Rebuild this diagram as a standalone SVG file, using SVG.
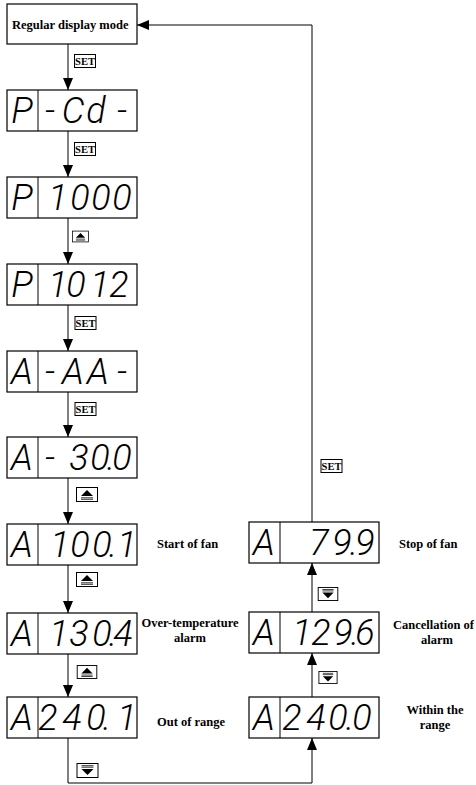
<svg xmlns="http://www.w3.org/2000/svg" xmlns:xlink="http://www.w3.org/1999/xlink" width="476" height="785" viewBox="0 0 476 785">
<style>
.box{fill:#fff;stroke:#000;stroke-width:1.2}
.div{stroke:#000;stroke-width:1}
.seg{font-family:Roboto,"Liberation Sans",Arial,sans-serif;font-weight:300;font-style:italic;font-size:36px;fill:#000;text-anchor:middle}
.lbl{font-family:"Liberation Serif","Times New Roman",serif;font-weight:bold;font-size:12.5px;fill:#000}
.conn{fill:none;stroke:#000;stroke-width:1}
.btn{fill:#fff;stroke:#000;stroke-width:1}
.bt{font-family:"Liberation Serif","Times New Roman",serif;font-weight:bold;font-size:10.5px;fill:#000;text-anchor:middle}
</style>
<defs>
<marker id="ah" markerUnits="userSpaceOnUse" markerWidth="13" markerHeight="10" refX="12" refY="5" orient="auto">
<path d="M0,0 L12,5 L0,10 z" fill="#000"/>
</marker>
<symbol id="set" viewBox="0 0 22 14">
<rect x="0.5" y="0.5" width="21" height="13" class="btn"/>
<text x="11" y="11" class="bt">SET</text>
</symbol>
<symbol id="up" viewBox="0 0 22 15">
<rect x="0.5" y="0.5" width="21" height="14" class="btn"/>
<path d="M11,3 L17,9 L5,9 z" fill="#000"/>
<path d="M5,10.8 H17 M5,12.3 H17" stroke="#000" stroke-width="0.8"/>
</symbol>
<symbol id="down" viewBox="0 0 22 15">
<rect x="0.5" y="0.5" width="21" height="14" class="btn"/>
<path d="M5,2.7 H17 M5,4.2 H17" stroke="#000" stroke-width="0.8"/>
<path d="M5,6 L17,6 L11,12 z" fill="#000"/>
</symbol>
</defs>
<rect width="476" height="785" fill="#fff"/>

<g id="connectors">
<path class="conn" d="M68,44 V90" marker-end="url(#ah)"/>
<path class="conn" d="M68,131 V177" marker-end="url(#ah)"/>
<path class="conn" d="M68,218 V264" marker-end="url(#ah)"/>
<path class="conn" d="M68,305 V351" marker-end="url(#ah)"/>
<path class="conn" d="M68,392 V437" marker-end="url(#ah)"/>
<path class="conn" d="M68,478 V524" marker-end="url(#ah)"/>
<path class="conn" d="M68,565 V613" marker-end="url(#ah)"/>
<path class="conn" d="M68,654 V697" marker-end="url(#ah)"/>
<path class="conn" d="M68,738 V783 H312 V738" marker-end="url(#ah)"/>
<path class="conn" d="M312,697 V653" marker-end="url(#ah)"/>
<path class="conn" d="M312,612 V563" marker-end="url(#ah)"/>
<path class="conn" d="M312,522 V25 H137" marker-end="url(#ah)"/>
<use xlink:href="#set" x="74" y="54" width="22" height="14"/>
<use xlink:href="#set" x="74" y="142" width="22" height="14"/>
<use xlink:href="#up" x="72" y="230" width="17" height="13"/>
<use xlink:href="#set" x="74" y="316" width="23" height="14"/>
<use xlink:href="#set" x="74" y="402" width="23" height="14"/>
<use xlink:href="#up" x="76" y="487" width="22" height="15"/>
<use xlink:href="#up" x="76" y="572" width="22" height="15"/>
<use xlink:href="#up" x="76" y="665" width="22" height="14"/>
<use xlink:href="#down" x="76" y="763" width="23" height="15"/>
<use xlink:href="#down" x="316" y="671" width="24" height="13"/>
<use xlink:href="#down" x="316" y="587" width="24" height="14"/>
<use xlink:href="#set" x="320" y="459" width="23" height="14"/>
</g>

<g id="regular">
<rect class="box" x="7" y="4" width="130" height="40"/>
<text class="lbl" x="12" y="28.5">Regular display mode</text>
</g>

<g id="p-cd">
<rect class="box" x="7" y="90" width="130" height="41"/>
<line class="div" x1="38" y1="90" x2="38" y2="131"/>
<text class="seg" x="22" y="123">P</text>
<text class="seg" x="50 73 96 122" y="123">-Cd-</text>
</g>

<g id="p-1000">
<rect class="box" x="7" y="177" width="130" height="41"/>
<line class="div" x1="38" y1="177" x2="38" y2="218"/>
<text class="seg" x="22" y="210">P</text>
<text class="seg" x="58 80 101 122" y="210">1000</text>
</g>

<g id="p-1012">
<rect class="box" x="7" y="264" width="130" height="41"/>
<line class="div" x1="38" y1="264" x2="38" y2="305"/>
<text class="seg" x="22" y="297">P</text>
<text class="seg" x="58 76 100 119" y="297">1012</text>
</g>

<g id="a-aa">
<rect class="box" x="7" y="351" width="130" height="41"/>
<line class="div" x1="38" y1="351" x2="38" y2="392"/>
<text class="seg" x="22" y="384">A</text>
<text class="seg" x="50 73 98 122" y="384">-AA-</text>
</g>

<g id="a-30">
<rect class="box" x="7" y="437" width="130" height="41"/>
<line class="div" x1="38" y1="437" x2="38" y2="478"/>
<text class="seg" x="22" y="470">A</text>
<text class="seg" x="50 79 100 111 122" y="470">-30.0</text>
</g>

<g id="a-100">
<rect class="box" x="7" y="524" width="130" height="41"/>
<line class="div" x1="38" y1="524" x2="38" y2="565"/>
<text class="seg" x="22" y="557">A</text>
<text class="seg" x="60 80 102 113 127" y="557">100.1</text>
</g>
<text class="lbl" x="157" y="548">Start of fan</text>

<g id="a-130">
<rect class="box" x="7" y="613" width="130" height="41"/>
<line class="div" x1="38" y1="613" x2="38" y2="654"/>
<text class="seg" x="22" y="646">A</text>
<text class="seg" x="59 79 102 113 123" y="646">130.4</text>
</g>
<text class="lbl" x="190" y="627" text-anchor="middle">Over-temperature</text>
<text class="lbl" x="190" y="642" text-anchor="middle">alarm</text>

<g id="a-240-1">
<rect class="box" x="7" y="697" width="130" height="41"/>
<line class="div" x1="38" y1="697" x2="38" y2="738"/>
<text class="seg" x="22" y="730">A</text>
<text class="seg" x="48 72 96 107 127" y="730">240.1</text>
</g>
<text class="lbl" x="157" y="726">Out of range</text>

<g id="a-79">
<rect class="box" x="249" y="522" width="130" height="41"/>
<line class="div" x1="280" y1="522" x2="280" y2="563"/>
<text class="seg" x="264" y="555">A</text>
<text class="seg" x="319 342 354 365" y="555">79.9</text>
</g>
<text class="lbl" x="399" y="548">Stop of fan</text>

<g id="a-129">
<rect class="box" x="249" y="612" width="130" height="41"/>
<line class="div" x1="280" y1="612" x2="280" y2="653"/>
<text class="seg" x="264" y="645">A</text>
<text class="seg" x="302 321 343 355 365" y="645">129.6</text>
</g>
<text class="lbl" x="393" y="629">Cancellation of</text>
<text class="lbl" x="437" y="644" text-anchor="middle">alarm</text>

<g id="a-240-0">
<rect class="box" x="249" y="697" width="130" height="41"/>
<line class="div" x1="280" y1="697" x2="280" y2="738"/>
<text class="seg" x="264" y="730">A</text>
<text class="seg" x="292 316 338 350 362" y="730">240.0</text>
</g>
<text class="lbl" x="435" y="714" text-anchor="middle">Within the</text>
<text class="lbl" x="435" y="729" text-anchor="middle">range</text>
</svg>
